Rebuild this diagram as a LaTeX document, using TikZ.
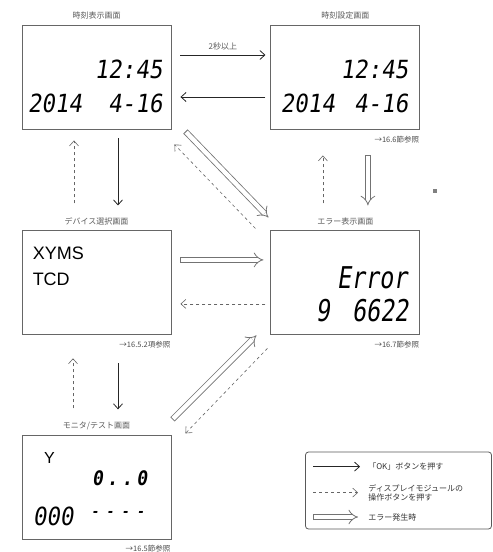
\documentclass[tikz,border=0pt]{standalone}
\usepackage{fontspec}
\setsansfont{Liberation Sans}
\newfontfamily\jpfont{Noto Sans CJK JP}
\newfontfamily\lcdfont[FakeSlant=0.15,FakeStretch=0.9]{DejaVu Sans Mono}
\newfontfamily\lcdnarrow[FakeSlant=0.15,FakeStretch=0.78]{DejaVu Sans Mono}
\usetikzlibrary{
        arrows.meta,
        calc,
        positioning
    }
\tikzset{>={Straight Barb[length=5pt,width=9pt]},node distance=2cm}
\tikzset{screen/.style={draw=black!60,line width=0.9pt,minimum width=149pt,minimum height=104pt,inner sep=0pt}}
\tikzset{title/.style={font=\jpfont\fontsize{8}{9}\selectfont,text=black!65,inner sep=1pt}}
\tikzset{seeref/.style={font=\jpfont\fontsize{7.5}{8}\selectfont,text=black!70,inner sep=1pt}}
\tikzset{okpush/.style={->,black!85,line width=0.8pt}}
\tikzset{btnpush/.style={->,dashed,black!60,line width=0.6pt}}
\tikzset{errjump/.style={draw=black!55,line width=0.8pt,double=white,double distance=4.4pt,
        {Bar[width=6pt]}-{Implies[length=7pt,width=14pt]}}}
\tikzset{lcd/.style={font=\lcdfont\fontsize{25}{25}\selectfont,inner sep=0pt}}
\tikzset{lcdwide/.style={font=\lcdnarrow\fontsize{30}{30}\selectfont,inner sep=0pt}}
\tikzset{lcdsmall/.style={font=\lcdfont\bfseries\fontsize{20}{20}\selectfont,inner sep=0pt}}
\tikzset{keytext/.style={title,text=black!80,anchor=west,align=left}}

\begin{document}
\begin{tikzpicture}[x=1pt,y=-1pt]
                \useasboundingbox (0,0) rectangle (493,552);
                % screens
                \node[screen] (disp) at (96.5,77) {};
                \node[screen] (set)  [right=99pt of disp] {};
                \node[screen] (dev)  [below=101pt of disp] {};
                \node[screen] (err)  [below=101pt of set] {};
                \node[screen] (mon)  [below=100pt of dev] {};
                \node[title] [above=4pt of disp] {時刻表示画面};
                \node[title] [above=4pt of set]  {時刻設定画面};
                \node[title] [above=4pt of dev]  {デバイス選択画面};
                \node[title] [above=4pt of err]  {エラー表示画面};
                \node[title] [above=4pt of mon]  {モニタ/テスト画面};
                \node[seeref,anchor=north east] at ($(set.south east)+(0,6)$) {→16.6節参照};
                \node[seeref,anchor=north east] at ($(dev.south east)+(0,5)$) {→16.5.2項参照};
                \node[seeref,anchor=north east] at ($(err.south east)+(0,5)$) {→16.7節参照};
                \node[seeref,anchor=north east] at ($(mon.south east)+(0,3.5)$) {→16.5節参照};
                % screen contents
                \node[lcd,anchor=east] at ($(disp.north west)+(141,45)$) {12:45};
                \node[lcd,anchor=west] at ($(disp.north west)+(6,79)$) {2014};
                \node[lcd,anchor=east] at ($(disp.north west)+(141,79)$) {4-16};
                \node[lcd,anchor=east] at ($(set.north west)+(138,45)$) {12:45};
                \node[lcd,anchor=west] at ($(set.north west)+(10,79)$) {2014};
                \node[lcd,anchor=east] at ($(set.north west)+(138,79)$) {4-16};
                \node[font=\sffamily\fontsize{18}{18}\selectfont,anchor=west,inner sep=0pt] at ($(dev.north west)+(11,23)$) {XYMS};
                \node[font=\sffamily\fontsize{18}{18}\selectfont,anchor=west,inner sep=0pt] at ($(dev.north west)+(11,49)$) {TCD};
                \node[lcdwide,anchor=east] at ($(err.north west)+(137,47)$) {Error};
                \node[lcdwide,anchor=west] at ($(err.north west)+(45,80)$) {9};
                \node[lcdwide,anchor=east] at ($(err.north west)+(138,80)$) {6622};
                \node[font=\sffamily\fontsize{16}{16}\selectfont,inner sep=0pt] at ($(mon.north west)+(28,23)$) {Y};
                \node[lcdsmall,anchor=east] at ($(mon.north west)+(126,43)$) {0\hspace{4pt}.\hspace{4pt}.\hspace{4pt}0};
                \node[lcd,anchor=west] at ($(mon.north west)+(11,81)$) {000};
                \node[lcdsmall,font=\lcdfont\bfseries\fontsize{14}{14}\selectfont] at ($(mon.north west)+(96,79)$) {- - - -};
                % transitions
                \draw[okpush] ($(disp.east)+(9,-22)$) -- node[title,above=3pt] {2秒以上} ($(set.west)+(-5,-22)$);
                \draw[okpush] ($(set.west)+(-5,20)$) -- ($(disp.east)+(9,20)$);
                \draw[okpush] ($(disp.south)+(21.5,9)$) -- ($(dev.north)+(21.5,-25)$);
                \draw[btnpush] ($(dev.north)+(-22.5,-27)$) -- ($(disp.south)+(-22.5,11)$);
                \draw[btnpush] ($(err.north)+(-22.5,-27)$) -- ($(set.south)+(-22.5,26)$);
                \draw[errjump] ($(set.south)+(22.5,26)$) -- ($(err.north)+(22.5,-25)$);
                \draw[errjump] ($(disp.south east)+(14,2)$) -- ($(err.north west)+(-2,-13)$);
                \draw[btnpush] ($(err.north west)+(-15,-2)$) -- ($(disp.south east)+(3,15)$);
                \draw[errjump] ($(dev.east)+(9,-23)$) -- ($(err.west)+(-7,-23)$);
                \draw[btnpush] ($(err.west)+(-5,21)$) -- ($(dev.east)+(9,21)$);
                \draw[okpush] ($(dev.south)+(21.5,28)$) -- ($(mon.north)+(21.5,-26)$);
                \draw[btnpush] ($(mon.north)+(-23.5,-27)$) -- ($(dev.south)+(-23.5,23)$);
                \draw[errjump] ($(mon.north east)+(1,-16)$) -- ($(err.south west)+(-14,0)$);
                \draw[btnpush] ($(err.south west)+(-3,13)$) -- ($(mon.north east)+(14,-2)$);
                \node[fill=black!50,minimum size=4pt,inner sep=0pt] (speck) at (435,191) {};
                % legend
                \node[draw=black!65,line width=0.8pt,rounded corners=3pt,minimum width=186pt,minimum height=77pt] (key) at (398.5,490.5) {};
                \coordinate (k1) at ($(key.north west)+(8,15)$);
                \coordinate (k2) at ($(key.north west)+(8,41)$);
                \coordinate (k3) at ($(key.north west)+(8,65.4)$);
                \coordinate (e1) at ($(k1)+(47,0)$);
                \coordinate (e2) at ($(k2)+(45,0)$);
                \coordinate (e3) at ($(k3)+(45,0)$);
                \draw[okpush] (k1) -- (e1);
                \draw[btnpush] (k2) -- (e2);
                \draw[errjump] (k3) -- (e3);
                \node[keytext] at ($(e1)+(7,0)$) {「OK」ボタンを押す};
                \node[keytext] at ($(e2)+(9,0)$) {ディスプレイモジュールの\\操作ボタンを押す};
                \node[keytext] at ($(e3)+(9,0)$) {エラー発生時};
\end{tikzpicture}
\end{document}
